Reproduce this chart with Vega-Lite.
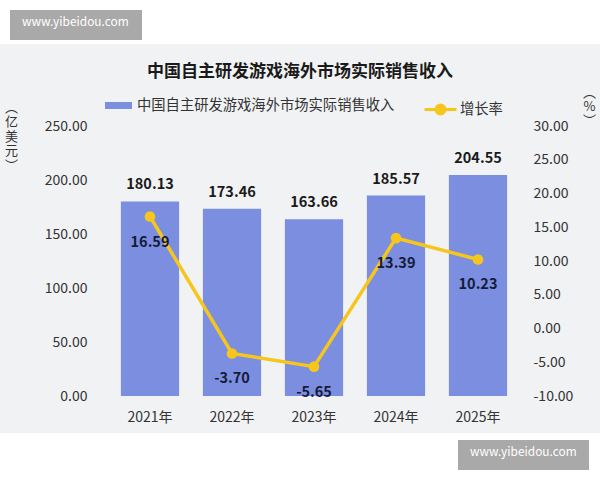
{
  "$schema": "https://vega.github.io/schema/vega-lite/v6.json",
  "autosize": "none",
  "width": 410,
  "height": 270,
  "padding": {"left": 109, "top": 126, "right": 81, "bottom": 84},
  "background": "#f1f2f4",
  "config": {
    "font": "Noto Sans CJK SC",
    "view": {"stroke": null},
    "axis": {"labelOverlap": false},
    "locale": {"number": {"decimal": ".", "thousands": ",", "grouping": [3], "currency": ["$", ""], "minus": "-"}}
  },
  "title": {
    "text": "中国自主研发游戏海外市场实际销售收入",
    "fontSize": 17,
    "fontWeight": "bold",
    "color": "#1a1a1a",
    "anchor": "middle",
    "frame": "group",
    "dx": -14,
    "baseline": "middle",
    "offset": -89
  },
  "data": {
    "values": [
      {"year": "2021年", "revenue": 180.13, "growth": 16.59},
      {"year": "2022年", "revenue": 173.46, "growth": -3.70},
      {"year": "2023年", "revenue": 163.66, "growth": -5.65},
      {"year": "2024年", "revenue": 185.57, "growth": 13.39},
      {"year": "2025年", "revenue": 204.55, "growth": 10.23}
    ]
  },
  "encoding": {
    "x": {
      "field": "year",
      "type": "nominal",
      "sort": null,
      "scale": {"paddingInner": 0.29, "paddingOuter": 0.145},
      "axis": {
        "title": null,
        "labelAngle": 0,
        "labelFontSize": 14,
        "labelColor": "#333333",
        "labelPadding": 14,
        "ticks": false,
        "domain": false
      }
    }
  },
  "layer": [
    {
      "encoding": {
        "y": {
          "field": "revenue",
          "type": "quantitative",
          "scale": {"domain": [0, 250], "nice": false},
          "axis": {
            "values": [0, 50, 100, 150, 200, 250],
            "format": ".2f",
            "grid": false,
            "ticks": false,
            "domain": false,
            "labelFontSize": 14,
            "labelColor": "#333333",
            "labelPadding": 22,
            "title": ["︵", "亿", "美", "元", "︶"],
            "titleAngle": 0,
            "titleX": -98,
            "titleY": -25,
            "titleAlign": "center",
            "titleBaseline": "top",
            "titleFontSize": 13,
            "titleFontWeight": "normal",
            "titleColor": "#333333",
            "titleLineHeight": 14.5
          }
        }
      },
      "layer": [
        {
          "mark": {"type": "bar", "color": "#7b8ee0"},
          "encoding": {
            "fill": {
              "datum": "中国自主研发游戏海外市场实际销售收入",
              "type": "nominal",
              "scale": {"range": ["#7b8ee0"]},
              "legend": {
                "orient": "none",
                "legendX": -4,
                "legendY": -34,
                "title": null,
                "padding": 0,
                "symbolType": "M-1,-0.26H1V0.26H-1Z",
                "symbolSize": 729,
                "symbolStrokeWidth": 0,
                "labelFontSize": 14.3,
                "labelColor": "#333333",
                "labelOffset": 5,
                "labelLimit": 400
              }
            },
            "strokeDash": {
              "datum": "a",
              "type": "nominal",
              "scale": {"range": [[1, 0]]},
              "legend": {
                "orient": "none",
                "legendX": -99,
                "legendY": -116,
                "zindex": 2,
                "title": "www.yibeidou.com",
                "titleOrient": "left",
                "titleColor": "#ffffff",
                "titleFontSize": 11.9,
                "titleFontWeight": "normal",
                "titlePadding": 0,
                "fillColor": "#a9a9a9",
                "padding": 12,
                "symbolSize": 0,
                "symbolStrokeWidth": 0,
                "symbolOpacity": 0,
                "labelExpr": "''",
                "labelFontSize": 1,
                "labelOffset": 0
              }
            },
            "strokeWidth": {
              "datum": "b",
              "type": "ordinal",
              "scale": {"range": [0]},
              "legend": {
                "orient": "none",
                "legendX": 349,
                "legendY": 314,
                "zindex": 2,
                "title": "www.yibeidou.com",
                "titleOrient": "left",
                "titleColor": "#ffffff",
                "titleFontSize": 11.9,
                "titleFontWeight": "normal",
                "titlePadding": 0,
                "fillColor": "#a9a9a9",
                "padding": 12,
                "symbolSize": 0,
                "symbolOpacity": 0,
                "labelExpr": "''",
                "labelFontSize": 1,
                "labelOffset": 0
              }
            }
          }
        },
        {
          "mark": {"type": "text", "baseline": "alphabetic", "dy": -12, "fontSize": 14.5, "fontWeight": "bold", "color": "#1a1a1a"},
          "encoding": {
            "text": {"field": "revenue", "type": "quantitative", "format": ".2f"}
          }
        }
      ]
    },
    {
      "encoding": {
        "y": {
          "field": "growth",
          "type": "quantitative",
          "scale": {"domain": [-10, 30], "nice": false},
          "axis": {
            "orient": "right",
            "values": [-10, -5, 0, 5, 10, 15, 20, 25, 30],
            "format": ".2f",
            "labelOverlap": false,
            "grid": false,
            "ticks": false,
            "domain": false,
            "labelFontSize": 14,
            "labelColor": "#333333",
            "labelPadding": 14,
            "title": ["︵", "%", "︶"],
            "titleAngle": 0,
            "titleX": 70,
            "titleY": -40,
            "titleAlign": "center",
            "titleBaseline": "top",
            "titleFontSize": 13,
            "titleFontWeight": "normal",
            "titleColor": "#333333",
            "titleLineHeight": 14
          }
        }
      },
      "layer": [
        {
          "mark": {"type": "line", "strokeWidth": 3.5},
          "encoding": {
            "stroke": {
              "datum": "增长率",
              "type": "nominal",
              "scale": {"range": ["#f6c61c"]},
              "legend": {
                "orient": "none",
                "legendX": 314,
                "legendY": -34,
                "title": null,
                "padding": 0,
                "symbolType": "M-1,0H1M0.28,0A0.28,0.28,0,1,1,-0.28,0A0.28,0.28,0,1,1,0.28,0",
                "symbolSize": 1024,
                "symbolStrokeWidth": 3,
                "labelFontSize": 14.3,
                "labelColor": "#333333",
                "labelOffset": 2,
                "encode": {"symbols": {"update": {"fill": {"value": "#f6c61c"}}}}
              }
            }
          }
        },
        {
          "mark": {"type": "point", "filled": true, "size": 1, "opacity": 1, "color": "#ffffff"},
          "encoding": {
            "shape": {
              "datum": "strip",
              "type": "nominal",
              "scale": {"range": ["M-1,-1H1V-0.8533H-1ZM-1,0.4433H1V0.6H-1Z"]},
              "legend": {
                "orient": "none",
                "legendX": -109,
                "legendY": -126,
                "title": null,
                "padding": 0,
                "zindex": 1,
                "symbolSize": 360000,
                "symbolStrokeWidth": 0,
                "labelExpr": "''",
                "labelFontSize": 1,
                "labelOffset": 0
              }
            }
          }
        },
        {
          "mark": {"type": "point", "filled": true, "size": 113, "opacity": 1, "color": "#f6c61c"}
        },
        {
          "mark": {"type": "text", "baseline": "middle", "dy": 26, "fontSize": 14.5, "fontWeight": "bold", "color": "#151b3a"},
          "encoding": {
            "text": {"field": "growth", "type": "quantitative", "format": ".2f"}
          }
        }
      ]
    }
  ],
  "resolve": {"scale": {"y": "independent", "fill": "independent", "stroke": "independent"}}
}
